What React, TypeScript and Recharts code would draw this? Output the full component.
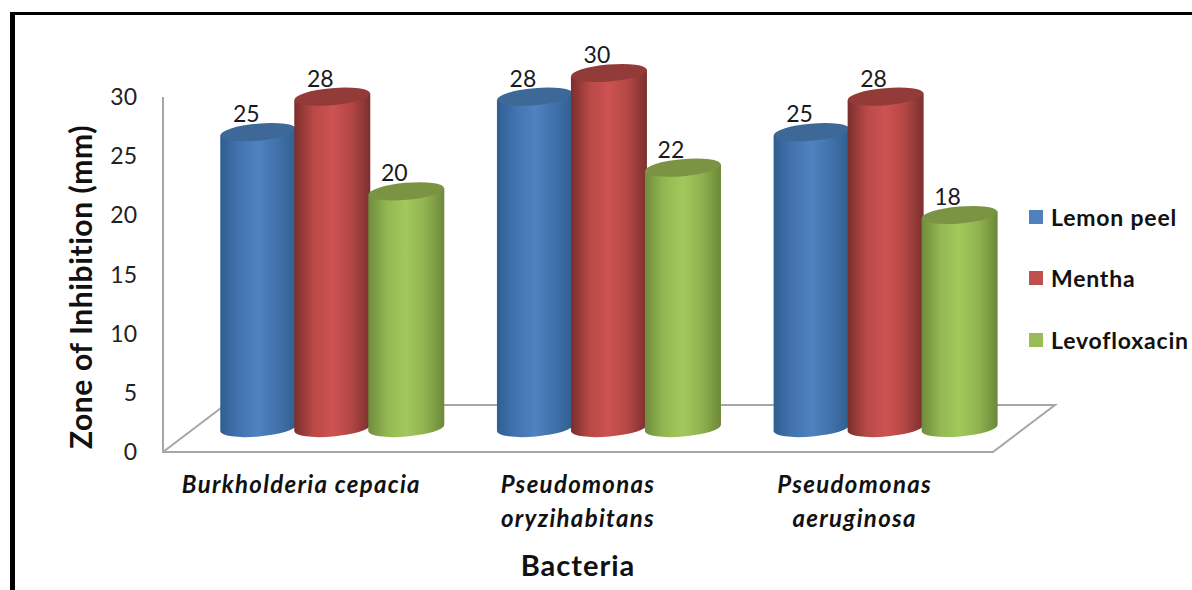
import React from 'react';
import { Bar, BarChart, LabelList, Legend, usePlotArea, XAxis, YAxis } from 'recharts';

const categories = ['Burkholderia cepacia', 'Pseudomonas oryzihabitans', 'Pseudomonas aeruginosa'];
const lemonPeel = [25, 28, 25];
const mentha = [28, 30, 28];
const levofloxacin = [20, 22, 18];
const yTicks = [0, 5, 10, 15, 20, 25, 30];

const chartData = categories.map((name, i) => ({
  name,
  lemon: lemonPeel[i],
  mentha: mentha[i],
  levo: levofloxacin[i],
}));

const FONT = 'Lato, Carlito, sans-serif';
const AXIS_GREY = '#a6a6a6';
// the cylinders stand in the middle of the floor, the floor is twice this deep
const DEPTH_X = 31;
const DEPTH_Y = -24;
const RX_TILT = -5;

const palette: Record<string, { id: string; top: string; stops: string[] }> = {
  lemon: { id: 'gradLemon', top: '#3d6897', stops: ['#2f5e91', '#4374b0', '#4f82c0', '#4072ab', '#305f90'] },
  mentha: { id: 'gradMentha', top: '#933b39', stops: ['#7b2e2c', '#b84947', '#cd5351', '#b34745', '#7b302e'] },
  levo: { id: 'gradLevo', top: '#7a9444', stops: ['#6f8c3c', '#93b852', '#a2c95c', '#90b24f', '#6c883a'] },
};

const Gradients = () => (
  <defs>
    {Object.values(palette).map((p) => (
      <linearGradient key={p.id} id={p.id} x1="0" y1="0" x2="1" y2="0">
        {p.stops.map((c, i) => (
          <stop key={i} offset={`${i * 25}%`} stopColor={c} />
        ))}
      </linearGradient>
    ))}
  </defs>
);

// Floor of the 3D plot, drawn behind the bars
const Floor = () => {
  const plot = usePlotArea();
  if (!plot) return null;
  const { x, y, width, height } = plot;
  const bottom = y + height;
  const right = x + width;
  const dx = 62;
  const dy = -47;
  return (
    <g fill="none" stroke={AXIS_GREY} strokeWidth={2}>
      <path d={`M${x} ${y} L${x} ${bottom} L${right} ${bottom} L${right + dx} ${bottom + dy} L${x + dx} ${bottom + dy} L${x} ${bottom}`} />
    </g>
  );
};

const Cylinder = (seriesKey: string) => (props: any) => {
  const { x, y, width, height } = props;
  const p = palette[seriesKey];
  const rx = width / 2;
  const ry = 8.5;
  const tilt = Math.tan((-RX_TILT * Math.PI) / 180) * rx;
  const left = x + DEPTH_X;
  const right = left + width;
  const top = y + DEPTH_Y;
  const base = top + height;
  const body = `M${left} ${top + tilt} L${left} ${base + tilt} A${rx} ${ry} ${RX_TILT} 0 0 ${right} ${base - tilt} L${right} ${top - tilt} Z`;
  return (
    <g>
      <path d={body} fill={`url(#${p.id})`} />
      <ellipse
        cx={left + rx}
        cy={top}
        rx={rx}
        ry={ry}
        fill={p.top}
        transform={`rotate(${RX_TILT} ${left + rx} ${top})`}
      />
    </g>
  );
};

const ValueLabel = (props: any) => {
  const { x, y, width, value } = props;
  return (
    <text
      x={x + width / 2 + DEPTH_X - 12}
      y={y + DEPTH_Y - 19}
      textAnchor="middle"
      dominantBaseline="central"
      fontFamily={FONT}
      fontSize={23}
      fill="#1a1a1a"
    >
      {value}
    </text>
  );
};

const CategoryTick = (props: any) => {
  const { x, y, payload } = props;
  const text: string = payload.value;
  const lines = text.length > 20 ? text.split(' ') : [text];
  return (
    <text
      x={x}
      y={y + 33}
      textAnchor="middle"
      fontFamily={FONT}
      fontSize={24}
      fontWeight={700}
      fontStyle="italic"
      letterSpacing={1.3}
      fill="#111"
    >
      {lines.map((line, i) => (
        <tspan key={line} x={x} dy={i === 0 ? 0 : 34}>
          {line}
        </tspan>
      ))}
    </text>
  );
};

const YTitle = () => (
  <text
    x={80}
    y={287}
    transform="rotate(-90 80 287)"
    textAnchor="middle"
    dominantBaseline="central"
    fontFamily={FONT}
    fontSize={30}
    fontWeight={700}
    letterSpacing={0.6}
    fill="#111"
  >
    Zone of Inhibition (mm)
  </text>
);

const XTitle = () => (
  <text
    x={578}
    y={564}
    textAnchor="middle"
    dominantBaseline="central"
    fontFamily={FONT}
    fontSize={29}
    fontWeight={700}
    letterSpacing={1}
    fill="#111"
  >
    Bacteria
  </text>
);

const LegendBox = ({ payload }: any) => (
  <div style={{ fontFamily: FONT, fontSize: 23, fontWeight: 700, color: '#111' }}>
    {(payload || []).map((item: any) => (
      <div key={item.value} style={{ display: 'flex', alignItems: 'center', height: 61.5, letterSpacing: 0.8, whiteSpace: 'nowrap' }}>
        <span style={{ width: 14, height: 14, background: item.color, marginRight: 8 }} />
        {item.value}
      </div>
    ))}
  </div>
);

export default function App() {
  return (
    <div style={{ position: 'absolute', left: 0, top: 0, width: 1192, height: 590, overflow: 'hidden', background: '#fff' }}>
      <div
        style={{
          position: 'absolute',
          left: 10,
          top: 12,
          width: 1182,
          height: 578,
          borderLeft: '5px solid #000',
          borderTop: '3px solid #000',
          boxSizing: 'border-box',
        }}
      />
      <div style={{ position: 'absolute', left: 0, top: 0 }}>
        <BarChart
          width={1192}
          height={590}
          data={chartData}
          margin={{ top: 97, right: 29, bottom: 0, left: 0 }}
          barCategoryGap="9.5%"
          barGap={-2}
        >
          <Gradients />
          <Floor />
          <XAxis
            dataKey="name"
            height={138}
            axisLine={false}
            tickLine={false}
            interval={0}
            tick={<CategoryTick />}
            label={<XTitle />}
          />
          <YAxis
            width={163}
            domain={[0, 30]}
            ticks={yTicks}
            axisLine={false}
            tickLine={false}
            tickSize={0}
            tickMargin={26}
            tick={{ fontFamily: FONT, fontSize: 23, fill: '#222' }}
            label={<YTitle />}
          />
          <Legend
            layout="vertical"
            align="right"
            verticalAlign="top"
            itemSorter={null}
            wrapperStyle={{ left: 1029, top: 186, width: 170, right: 'auto' }}
            content={<LegendBox />}
          />
          <Bar dataKey="lemon" name="Lemon peel" fill="#4f81bd" shape={Cylinder('lemon')} isAnimationActive={false}>
            <LabelList dataKey="lemon" content={<ValueLabel />} />
          </Bar>
          <Bar dataKey="mentha" name="Mentha" fill="#c0504d" shape={Cylinder('mentha')} isAnimationActive={false}>
            <LabelList dataKey="mentha" content={<ValueLabel />} />
          </Bar>
          <Bar dataKey="levo" name="Levofloxacin" fill="#9bbb59" shape={Cylinder('levo')} isAnimationActive={false}>
            <LabelList dataKey="levo" content={<ValueLabel />} />
          </Bar>
        </BarChart>
      </div>
    </div>
  );
}
